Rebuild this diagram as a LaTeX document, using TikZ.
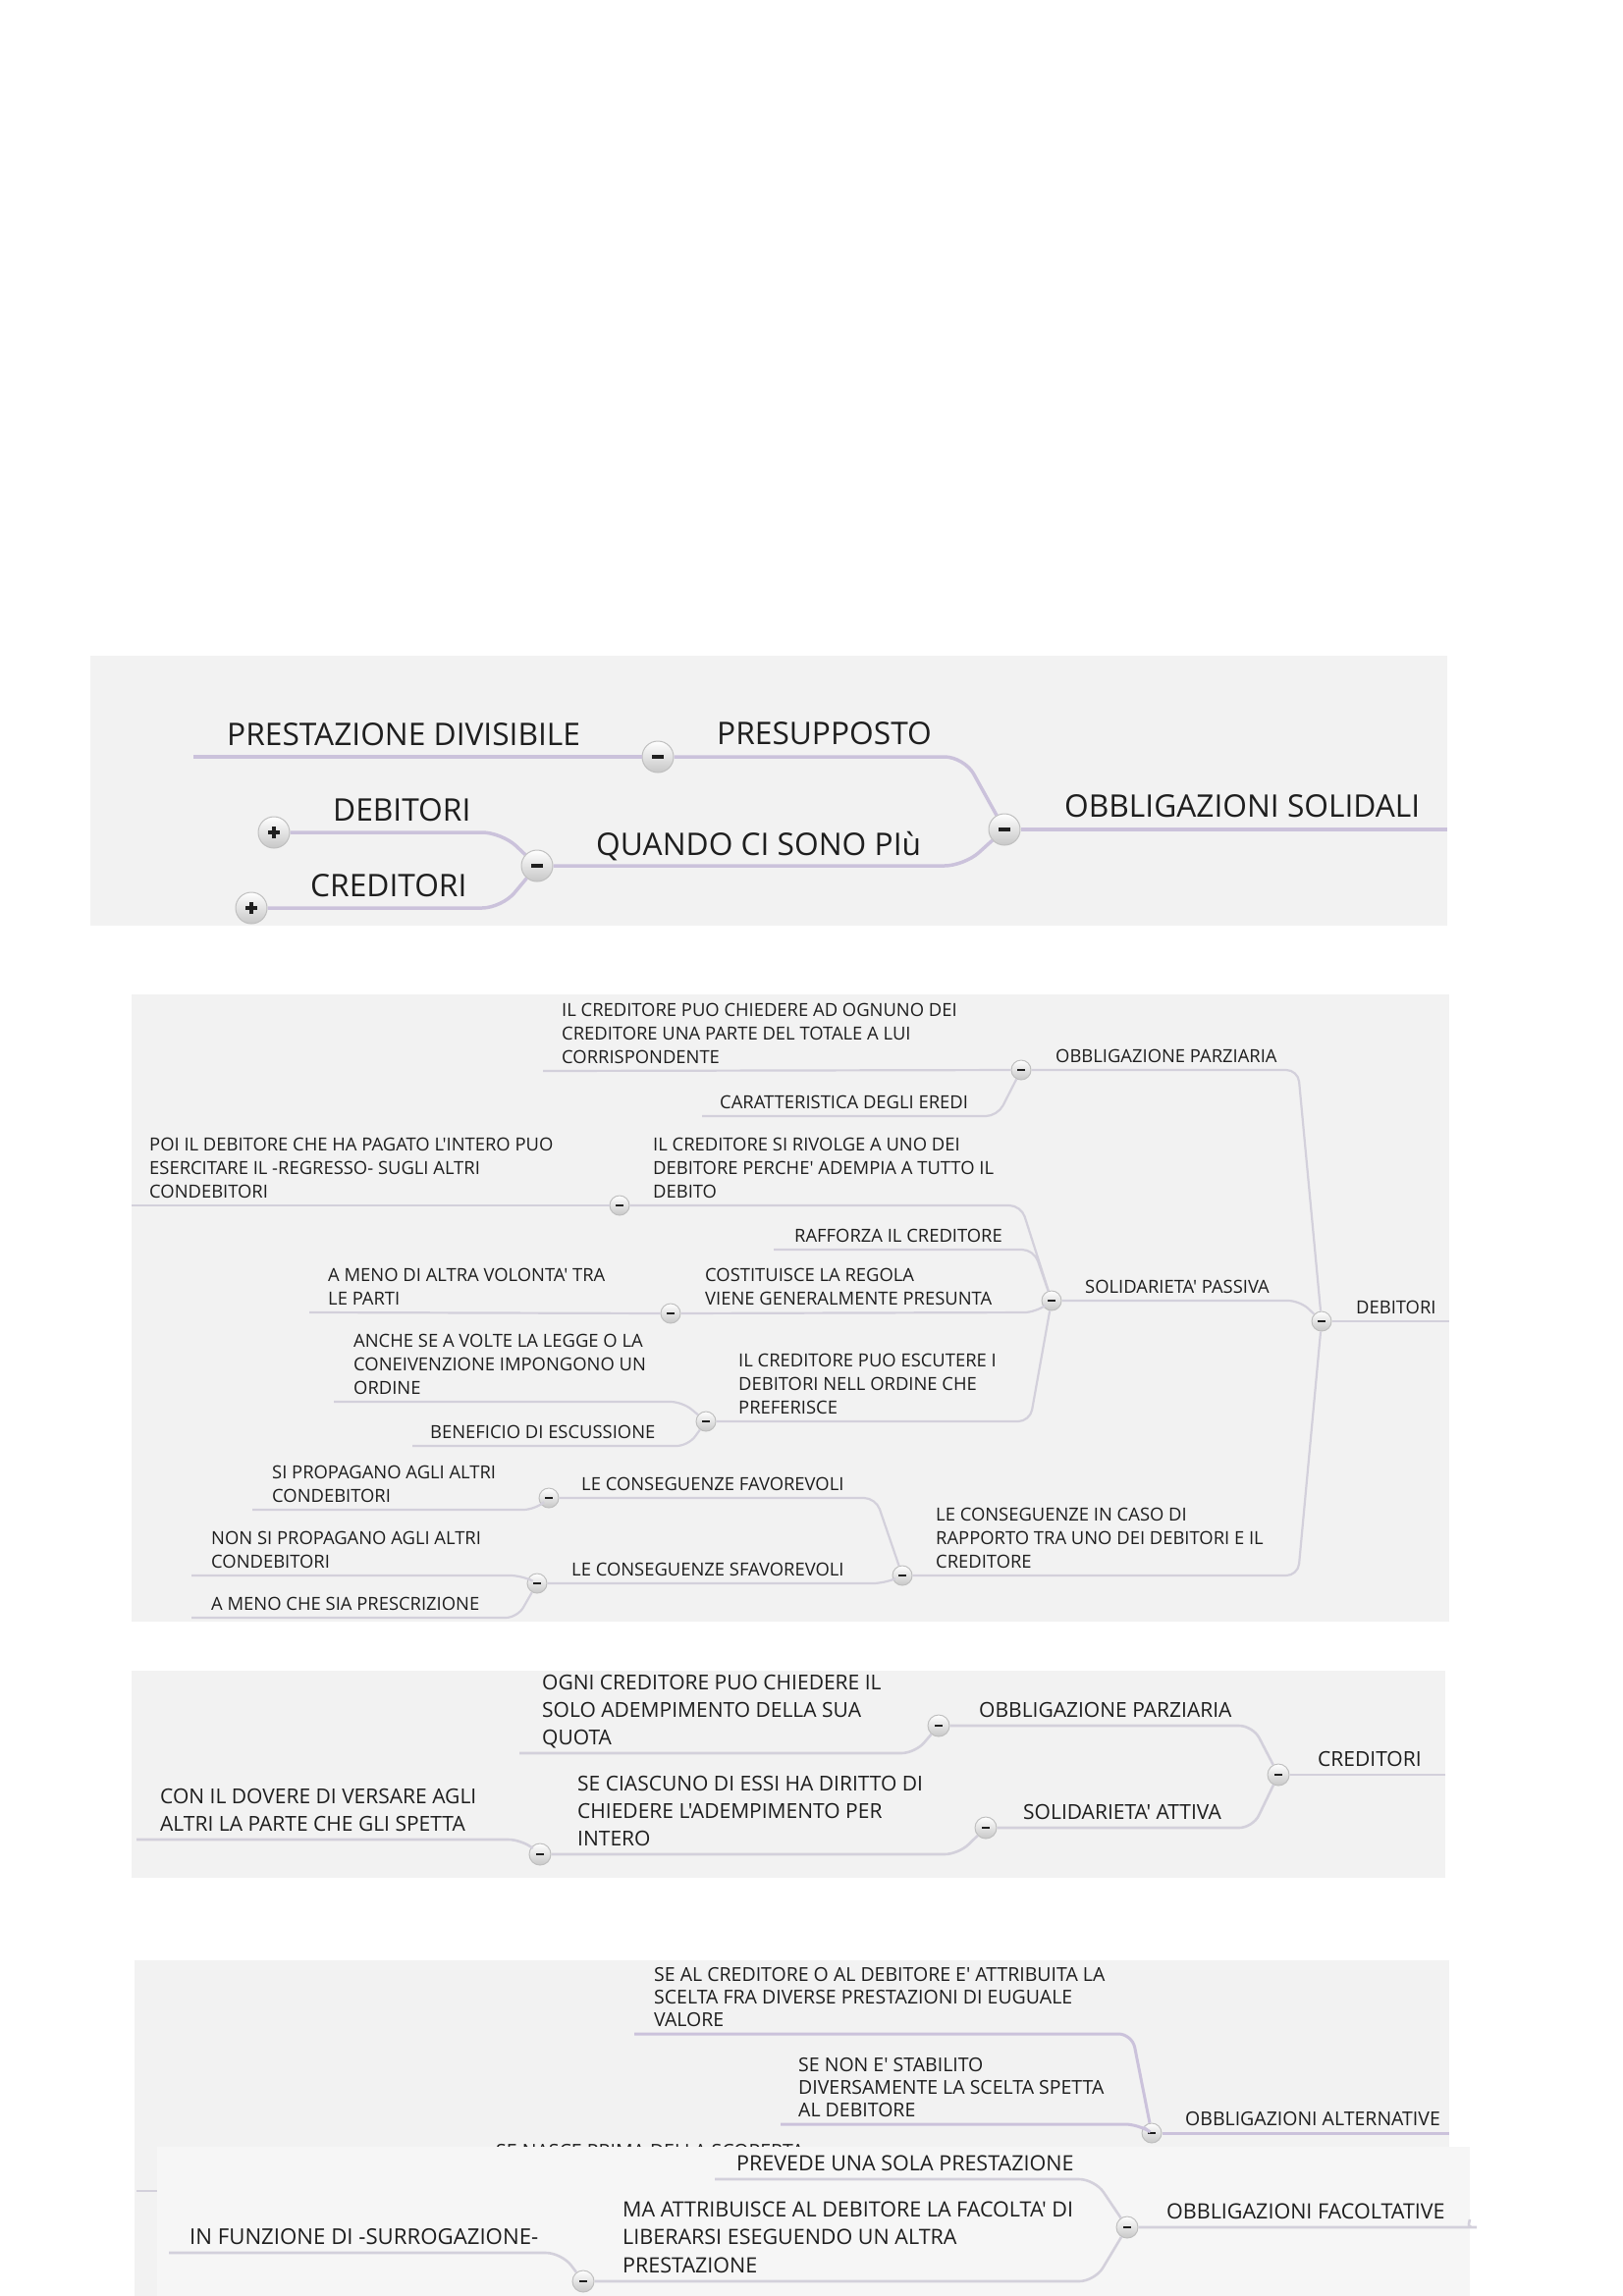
\documentclass[tikz,border=0pt]{standalone}
\usepackage{fontspec}
\setmainfont{Open Sans}[Ligatures=TeXOff]
\definecolor{panelbg}{HTML}{F2F2F2}
\definecolor{panelbgB}{HTML}{F6F6F6}
\definecolor{lnA}{HTML}{CBC2DB}
\definecolor{lnB}{HTML}{D3D0DB}
\definecolor{txt}{HTML}{1E1E1E}
\newcommand{\ml}[1]{\begin{tabular}[b]{@{}l@{}}#1\end{tabular}}
\tikzset{
  knob/.style={circle, inner sep=0pt, minimum size=#1*2pt, draw=black!25, line width=1pt, top color=white, bottom color=black!22},
  minus/.style={path picture={\fill[black!88] ([xshift=-0.40*#1pt,yshift=-0.13*#1pt]path picture bounding box.center) rectangle ([xshift=0.40*#1pt,yshift=0.13*#1pt]path picture bounding box.center);}},
  plus/.style={path picture={\fill[black!88] ([xshift=-0.40*#1pt,yshift=-0.13*#1pt]path picture bounding box.center) rectangle ([xshift=0.40*#1pt,yshift=0.13*#1pt]path picture bounding box.center);
     \fill[black!88] ([xshift=-0.13*#1pt,yshift=-0.40*#1pt]path picture bounding box.center) rectangle ([xshift=0.13*#1pt,yshift=0.40*#1pt]path picture bounding box.center);}},
  kA/.style={knob=16, minus=16},
  kAp/.style={knob=16, plus=16},
  kB/.style={knob=10, minus=10},
  kC/.style={knob=11, minus=11},
  tA/.style={anchor=base west, inner sep=0pt, text=txt, font=\fontsize{31.7}{40}\selectfont},
  tB/.style={anchor=base west, inner sep=0pt, text=txt, font=\fontsize{18.4}{24}\selectfont},
  tC/.style={anchor=base west, inner sep=0pt, text=txt, font=\fontsize{21}{28}\selectfont},
  tD/.style={anchor=base west, inner sep=0pt, text=txt, font=\fontsize{19.5}{23}\selectfont},
  tE/.style={anchor=base west, inner sep=0pt, text=txt, font=\fontsize{21.5}{28.5}\selectfont},
  lA/.style={draw=lnA, line width=3.5pt, rounded corners=20pt},
  lB/.style={draw=lnB, line width=2.2pt, rounded corners=12pt},
  lC/.style={draw=lnB, line width=2.6pt, rounded corners=14pt},
  lD/.style={draw=lnA, line width=3pt, rounded corners=14pt},
  lE/.style={draw=lnB, line width=2.6pt, rounded corners=16pt},
}
\begin{document}
\begin{tikzpicture}[x=1pt, y=-1pt]
\useasboundingbox (0,0) rectangle (1653,2339);
\fill[white] (0,0) rectangle (1653,2339);

% ---------------- panel 1
\fill[panelbg] (92,668) rectangle (1474,943);
\node[kA] (c1) at (1023,845) {};
\node[kA] (c2) at (670,771) {};
\node[kA] (c3) at (547,882) {};
\node[kAp] (p1) at (279,848) {};
\node[kAp] (p2) at (256,925) {};
\coordinate (e1) at (1474,845);
\coordinate (s1) at (197,771);
\draw[lA] (c1) -- (e1);
\draw[lA] (c2) -- (982,771) -- (c1);
\draw[lA] (s1) -- (c2);
\draw[lA] (c3) -- (982,882) -- (c1);
\draw[lA] (p1) -- (511,848) -- (c3);
\draw[lA] (p2) -- (511,925) -- (c3);
\node[tA] (a0) at (1084,832) {OBBLIGAZIONI SOLIDALI};
\node[tA] (a1) at (730,758) {PRESUPPOSTO};
\node[tA] (a2) at (231,759) {PRESTAZIONE DIVISIBILE};
\node[tA] (a3) at (607,871) {QUANDO CI SONO PIù};
\node[tA] (a4) at (339,836) {DEBITORI};
\node[tA] (a5) at (316,913) {CREDITORI};

% ---------------- panel 2
\fill[panelbg] (134,1013) rectangle (1476,1652);
\node[kB] (d0) at (1346,1346) {};
\node[kB] (d1) at (1040,1090) {};
\node[kB] (d2) at (1071,1325) {};
\node[kB] (d3) at (631,1228) {};
\node[kB] (d4) at (683,1338) {};
\node[kB] (d5) at (719,1448) {};
\node[kB] (d6) at (919,1605) {};
\node[kB] (d7) at (559,1526) {};
\node[kB] (d8) at (547,1613) {};
\draw[lB] (d0) -- (1476,1346);
\draw[lB] (d1) -- (1322,1090) -- (d0);
\draw[lB] (553,1091) -- (d1);
\draw[lB] (715,1137) -- (1016,1137) -- (d1);
\draw[lB] (d2) -- (1324,1325) -- (d0);
\draw[lB] (d3) -- (1040,1228) -- (d2);
\draw[lB] (134,1228) -- (d3);
\draw[lB] (788,1273) -- (1053,1273) -- (d2);
\draw[lB] (d4) -- (1055,1337) -- (d2);
\draw[lB] (315,1337) -- (d4);
\draw[lB] (d5) -- (1049,1448) -- (d2);
\draw[lB] (340,1428) -- (695,1428) -- (d5);
\draw[lB] (420,1473) -- (701,1473) -- (d5);
\draw[lB] (d6) -- (1322,1605) -- (d0);
\draw[lB] (d7) -- (892,1526) -- (d6);
\draw[lB] (257,1538) -- (545,1538) -- (d7);
\draw[lB] (d8) -- (901,1613) -- (d6);
\draw[lB] (195,1605) -- (532,1605) -- (d8);
\draw[lB] (195,1648) -- (527,1648) -- (d8);
\node[tB] (b0) at (1381,1338) {DEBITORI};
\node[tB] (b1) at (1075,1082) {OBBLIGAZIONE PARZIARIA};
\node[tB] (b2) at (572,1083) {\ml{IL CREDITORE PUO CHIEDERE AD OGNUNO DEI\\CREDITORE UNA PARTE DEL TOTALE A LUI\\CORRISPONDENTE}};
\node[tB] (b3) at (733,1129) {CARATTERISTICA DEGLI EREDI};
\node[tB] (b4) at (1105,1317) {SOLIDARIETA' PASSIVA};
\node[tB] (b5) at (665,1220) {\ml{IL CREDITORE SI RIVOLGE A UNO DEI\\DEBITORE PERCHE' ADEMPIA A TUTTO IL\\DEBITO}};
\node[tB] (b6) at (152,1220) {\ml{POI IL DEBITORE CHE HA PAGATO L'INTERO PUO\\ESERCITARE IL -REGRESSO- SUGLI ALTRI\\CONDEBITORI}};
\node[tB] (b7) at (809,1265) {RAFFORZA IL CREDITORE};
\node[tB] (b8) at (718,1329) {\ml{COSTITUISCE LA REGOLA\\VIENE GENERALMENTE PRESUNTA}};
\node[tB] (b9) at (334,1329) {\ml{A MENO DI ALTRA VOLONTA' TRA\\LE PARTI}};
\node[tB] (b10) at (752,1440) {\ml{IL CREDITORE PUO ESCUTERE I\\DEBITORI NELL ORDINE CHE\\PREFERISCE}};
\node[tB] (b11) at (360,1420) {\ml{ANCHE SE A VOLTE LA LEGGE O LA\\CONEIVENZIONE IMPONGONO UN\\ORDINE}};
\node[tB] (b12) at (438,1465) {BENEFICIO DI ESCUSSIONE};
\node[tB] (b13) at (953,1597) {\ml{LE CONSEGUENZE IN CASO DI\\RAPPORTO TRA UNO DEI DEBITORI E IL\\CREDITORE}};
\node[tB] (b14) at (592,1518) {LE CONSEGUENZE FAVOREVOLI};
\node[tB] (b15) at (277,1530) {\ml{SI PROPAGANO AGLI ALTRI\\CONDEBITORI}};
\node[tB] (b16) at (582,1605) {LE CONSEGUENZE SFAVOREVOLI};
\node[tB] (b17) at (215,1597) {\ml{NON SI PROPAGANO AGLI ALTRI\\CONDEBITORI}};
\node[tB] (b18) at (215,1640) {A MENO CHE SIA PRESCRIZIONE};

% ---------------- panel 3
\fill[panelbg] (134,1702) rectangle (1472,1913);
\node[kC] (f0) at (1302,1808) {};
\node[kC] (f1) at (956,1758) {};
\node[kC] (f2) at (1004,1862) {};
\node[kC] (f3) at (550,1889) {};
\draw[lC] (f0) -- (1472,1808);
\draw[lC] (f1) -- (1276,1758) -- (f0);
\draw[lC] (529,1786) -- (932,1786) -- (f1);
\draw[lC] (f2) -- (1276,1862) -- (f0);
\draw[lC] (f3) -- (976,1889) -- (f2);
\draw[lC] (139,1874) -- (532,1874) -- (f3);
\node[tC] (g0) at (1342,1799) {CREDITORI};
\node[tC] (g1) at (997,1749) {OBBLIGAZIONE PARZIARIA};
\node[tC] (g2) at (552,1777) {\ml{OGNI CREDITORE PUO CHIEDERE IL\\SOLO ADEMPIMENTO DELLA SUA\\QUOTA}};
\node[tC] (g3) at (1042,1853) {SOLIDARIETA' ATTIVA};
\node[tC] (g4) at (588,1880) {\ml{SE CIASCUNO DI ESSI HA DIRITTO DI\\CHIEDERE L'ADEMPIMENTO PER\\INTERO}};
\node[tC] (g5) at (163,1865) {\ml{CON IL DOVERE DI VERSARE AGLI\\ALTRI LA PARTE CHE GLI SPETTA}};

% ---------------- panel 4
\fill[panelbg] (137,1997) rectangle (1476,2339);
\node[kB] (h0) at (1173,2173) {};
\draw[lD] (h0) -- (1476,2173);
\draw[lD] (646,2072) -- (1153,2072) -- (h0);
\draw[lD] (795,2164) -- (1160,2164) -- (h0);
\coordinate (hs) at (139,2232);
\coordinate (he) at (180,2232);
\draw[lB] (hs) -- (he);
\node[tD] (i0) at (1207,2165) {OBBLIGAZIONI ALTERNATIVE};
\node[tD] (i1) at (666,2064) {\ml{SE AL CREDITORE O AL DEBITORE E' ATTRIBUITA LA\\SCELTA FRA DIVERSE PRESTAZIONI DI EUGUALE\\VALORE}};
\node[tD] (i2) at (813,2156) {\ml{SE NON E' STABILITO\\DIVERSAMENTE LA SCELTA SPETTA\\AL DEBITORE}};
\node[tD] (i3) at (505,2198) {SE NASCE PRIMA DELLA SCOPERTA};

% ---------------- panel 5
\fill[panelbgB] (160,2187) rectangle (1497,2339);
\node[kC] (j0) at (1148,2269) {};
\node[kC] (j1) at (594,2324) {};
\draw[lE] (j0) -- (1488,2269) .. controls (1495,2269) .. (1497,2261);
\draw[lE] (728,2220) -- (1115,2220) -- (j0);
\draw[lE] (j1) -- (1115,2324) -- (j0);
\draw[lE] (172,2295) -- (572,2295) -- (j1);
\node[tE] (k0) at (1188,2260) {OBBLIGAZIONI FACOLTATIVE};
\node[tE] (k1) at (750,2211) {PREVEDE UNA SOLA PRESTAZIONE};
\node[tE] (k2) at (634,2315) {\ml{MA ATTRIBUISCE AL DEBITORE LA FACOLTA' DI\\LIBERARSI ESEGUENDO UN ALTRA\\PRESTAZIONE}};
\node[tE, font=\fontsize{22.2}{28.5}\selectfont] (k3) at (193,2286) {IN FUNZIONE DI -SURROGAZIONE-};
\end{tikzpicture}
\end{document}
